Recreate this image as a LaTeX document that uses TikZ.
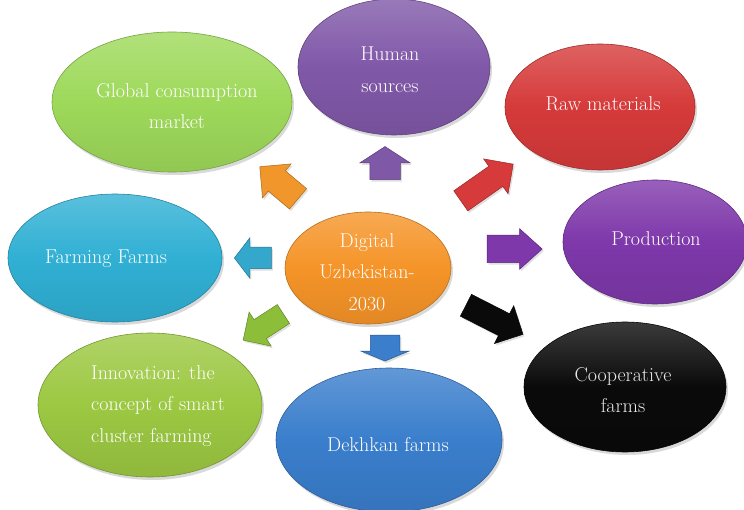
\documentclass[tikz,border=0pt]{standalone}
\usetikzlibrary{shapes.geometric,shapes.arrows,shadows}
\definecolor{cGlobal}{RGB}{158,217,90}
\definecolor{cHuman}{RGB}{128,88,168}
\definecolor{cRaw}{RGB}{214,58,58}
\definecolor{cProd}{RGB}{126,56,170}
\definecolor{cFarm}{RGB}{48,176,212}
\definecolor{cInno}{RGB}{156,200,66}
\definecolor{cDekh}{RGB}{58,126,204}
\definecolor{cCoop}{RGB}{10,10,10}
\definecolor{cDig}{RGB}{245,148,40}
\definecolor{aOrange}{RGB}{240,150,42}
\definecolor{aGreen}{RGB}{140,190,58}
\definecolor{aCyan}{RGB}{52,168,204}
\begin{document}
\begin{tikzpicture}[x=1pt,y=-1pt,
  bubble/.style={ellipse, inner sep=0pt, draw=#1!75!black, line width=0.6pt,
    top color=#1!80!white, bottom color=#1!92!black, middle color=#1,
    drop shadow={opacity=0.3, shadow xshift=2pt, shadow yshift=-3pt}},
  lbl/.style={text=white, font=\fontsize{20}{31.5}\selectfont, align=center, inner sep=0pt},
  blk/.style={single arrow, inner xsep=0pt, minimum width=0pt, fill=#1, draw=#1!70!black, line width=0.5pt,
    drop shadow={opacity=0.25, shadow xshift=1.5pt, shadow yshift=-2pt}}
]
\useasboundingbox (0,0) rectangle (744,510);

% bubbles
\node[bubble=cGlobal, minimum width=240pt, minimum height=140pt] (gl) at (172,102) {};
\node[bubble=cHuman,  minimum width=192pt, minimum height=136pt] (hu) at (394,67) {};
\node[bubble=cRaw,    minimum width=190pt, minimum height=126pt] (raw) at (600,107) {};
\node[bubble=cProd,   minimum width=184pt, minimum height=124pt] (prod) at (655,242) {};
\node[bubble=cFarm,   minimum width=214pt, minimum height=128pt] (farm) at (115,258) {};
\node[bubble=cInno,   minimum width=224pt, minimum height=144pt] (inno) at (150,405) {};
\node[bubble=cDekh,   minimum width=226pt, minimum height=144pt] (dekh) at (389,440) {};
\node[bubble=cCoop,   minimum width=202pt, minimum height=130pt] (coop) at (625,387) {};
\node[bubble=cDig,    minimum width=166pt, minimum height=112pt] (dig) at (368,268) {};

% labels
\node[lbl] (tgl) at (177,106) {Global consumption\\market};
\node[lbl] (thu) at (390,70) {Human\\sources};
\node[lbl] (traw) at (603,104) {Raw materials};
\node[lbl] (tprod) at (656,239) {Production};
\node[lbl] (tfarm) at (106,259) {Farming Farms};
\node[lbl, anchor=west, align=left] (tinno) at (91,406) {Innovation: the\\concept of smart\\cluster farming};
\node[lbl] (tdekh) at (388,445) {Dekhkan farms};
\node[lbl, text=white!92!black] (tcoop) at (623,390) {Cooperative\\farms};
\node[lbl] (tdig) at (367,272) {Digital\\Uzbekistan-\\2030};

% block arrows
\node[blk=aOrange, rotate=140, minimum height=50pt, inner ysep=13pt, single arrow head extend=9pt] (a1) at (284,187) {};
\node[blk=cHuman, rotate=90, minimum height=33pt, inner ysep=15pt, single arrow head extend=10pt, single arrow tip angle=114] (a2) at (385,168) {};
\node[blk=cRaw, rotate=35, minimum height=64pt, inner ysep=12pt, single arrow head extend=9pt] (a3) at (482,186) {};
\node[blk=cProd, rotate=0, minimum height=55pt, inner ysep=13.5pt, single arrow head extend=6.5pt, single arrow tip angle=84] (a4) at (507,249) {};
\node[blk=cCoop, rotate=-27, minimum height=64pt, inner ysep=12pt, single arrow head extend=9pt] (a5) at (489,317) {};
\node[blk=cDekh, rotate=-90, minimum height=26pt, inner ysep=14.5pt, single arrow head extend=9.5pt, single arrow tip angle=135] (a6) at (385,345) {};
\node[blk=aGreen, rotate=213, minimum height=48pt, inner ysep=11pt, single arrow head extend=9pt] (a7) at (268,324) {};
\node[blk=aCyan, rotate=180, minimum height=37pt, inner ysep=10.5pt, single arrow head extend=9.5pt, single arrow tip angle=105] (a8) at (257,258) {};
\end{tikzpicture}
\end{document}
